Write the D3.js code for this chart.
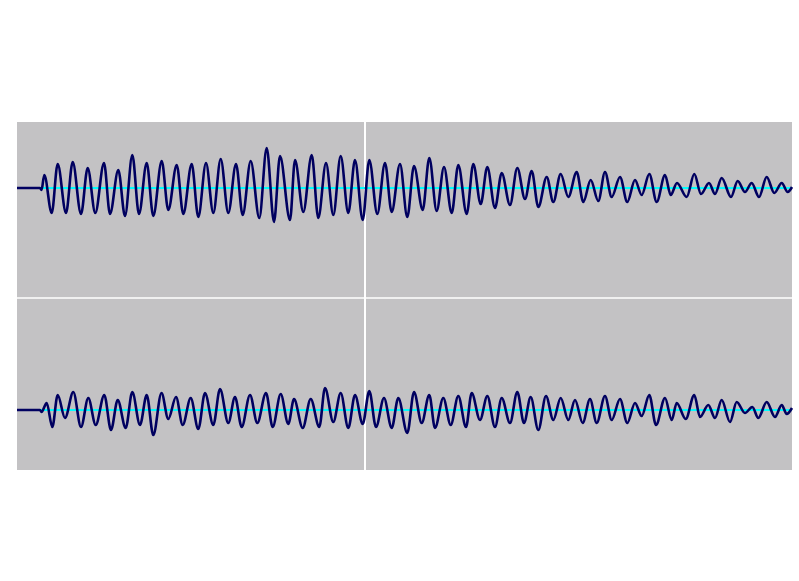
<!DOCTYPE html>
<html>
<head>
<meta charset="utf-8">
<script src="https://cdn.jsdelivr.net/npm/d3@7"></script>
<style>
  html, body { margin: 0; padding: 0; background: #ffffff; }
  svg { display: block; }
</style>
</head>
<body>
<svg id="chart" width="799" height="581"></svg>
<script>
// ---- data (time in ms, amplitude as fraction of full scale) ----
const duration = 77.5;
const gridTimes = [34.8];

const leftTimes = [0, 2.3, 2.45, 2.73, 3.47, 4.07, 4.9, 5.57, 6.4, 7.07, 7.83, 8.7, 9.3, 10.13, 10.8, 11.53, 12.2, 12.97, 13.63, 14.47, 15.13, 15.97, 16.63, 17.47, 18.13, 18.9, 19.63, 20.37, 21.13, 21.9, 22.57, 23.37, 24.23, 24.97, 25.7, 26.3, 27.3, 27.8, 28.63, 29.47, 30.13, 30.9, 31.63, 32.37, 33.13, 33.8, 34.57, 35.23, 36.03, 36.8, 37.47, 38.3, 39.03, 39.7, 40.57, 41.23, 41.97, 42.7, 43.47, 44.13, 44.97, 45.63, 46.37, 47.03, 47.8, 48.47, 49.3, 50.03, 50.8, 51.47, 52.13, 52.97, 53.63, 54.37, 55.13, 55.97, 56.63, 57.37, 58.13, 58.8, 59.47, 60.3, 61.03, 61.8, 62.47, 63.23, 63.97, 64.8, 65.37, 66.0, 66.97, 67.73, 68.4, 69.2, 69.8, 70.47, 71.4, 72.07, 72.8, 73.47, 74.2, 74.97, 75.73, 76.47, 77.07, 77.5];
const leftValues = [0, 0, -0.02, 0.13, -0.25, 0.24, -0.25, 0.26, -0.26, 0.20, -0.25, 0.25, -0.26, 0.18, -0.28, 0.33, -0.26, 0.25, -0.28, 0.27, -0.22, 0.23, -0.26, 0.24, -0.29, 0.25, -0.25, 0.29, -0.25, 0.24, -0.27, 0.27, -0.30, 0.40, -0.34, 0.32, -0.32, 0.28, -0.24, 0.33, -0.30, 0.25, -0.27, 0.32, -0.25, 0.28, -0.32, 0.28, -0.26, 0.25, -0.24, 0.24, -0.29, 0.22, -0.22, 0.30, -0.23, 0.21, -0.25, 0.23, -0.26, 0.24, -0.16, 0.21, -0.20, 0.15, -0.17, 0.20, -0.11, 0.17, -0.19, 0.11, -0.14, 0.14, -0.09, 0.16, -0.14, 0.08, -0.13, 0.16, -0.09, 0.11, -0.14, 0.08, -0.07, 0.14, -0.14, 0.13, -0.07, 0.05, -0.09, 0.14, -0.06, 0.05, -0.06, 0.10, -0.09, 0.07, -0.04, 0.05, -0.09, 0.11, -0.05, 0.05, -0.04, 0.01];

const rightTimes = [0, 2.3, 2.45, 2.97, 3.53, 4.07, 4.8, 5.63, 6.4, 7.13, 7.87, 8.73, 9.4, 10.07, 10.87, 11.53, 12.3, 12.97, 13.63, 14.45, 15.13, 15.9, 16.57, 17.37, 18.13, 18.8, 19.63, 20.3, 21.13, 21.8, 22.47, 23.3, 24.03, 24.9, 25.57, 26.37, 27.13, 27.7, 28.57, 29.37, 30.23, 30.8, 31.63, 32.37, 33.13, 33.8, 34.57, 35.23, 35.9, 36.7, 37.47, 38.13, 39.03, 39.7, 40.47, 41.23, 41.8, 42.63, 43.37, 44.13, 44.9, 45.47, 46.3, 47.03, 47.8, 48.47, 49.3, 50.03, 50.7, 51.37, 52.13, 52.9, 53.63, 54.37, 55.13, 55.8, 56.57, 57.3, 57.97, 58.8, 59.47, 60.3, 61.03, 61.8, 62.47, 63.23, 63.9, 64.8, 65.47, 65.97, 66.87, 67.73, 68.3, 69.13, 69.8, 70.47, 71.3, 71.97, 72.8, 73.53, 74.13, 74.97, 75.8, 76.47, 76.97, 77.5];
const rightValues = [0, 0, -0.02, 0.07, -0.17, 0.15, -0.08, 0.18, -0.17, 0.12, -0.15, 0.15, -0.20, 0.10, -0.18, 0.18, -0.15, 0.15, -0.25, 0.17, -0.09, 0.13, -0.15, 0.12, -0.19, 0.17, -0.15, 0.21, -0.13, 0.13, -0.17, 0.15, -0.13, 0.17, -0.17, 0.16, -0.14, 0.11, -0.18, 0.11, -0.17, 0.22, -0.12, 0.17, -0.18, 0.15, -0.14, 0.19, -0.17, 0.12, -0.18, 0.12, -0.23, 0.18, -0.13, 0.15, -0.18, 0.12, -0.15, 0.14, -0.17, 0.17, -0.10, 0.14, -0.17, 0.12, -0.13, 0.18, -0.13, 0.13, -0.20, 0.14, -0.10, 0.12, -0.10, 0.10, -0.13, 0.11, -0.13, 0.14, -0.10, 0.11, -0.13, 0.07, -0.06, 0.15, -0.15, 0.12, -0.10, 0.07, -0.09, 0.15, -0.07, 0.05, -0.08, 0.10, -0.12, 0.08, -0.03, 0.03, -0.08, 0.08, -0.07, 0.05, -0.04, 0.02];

// ---- layout ----
const svg = d3.select("#chart");
const panel = { left: 17, right: 792, top: 122, bottom: 470, split: 298 };
const zeroLeft = 188, zeroRight = 410, fullScale = 100;

const x = d3.scaleLinear().domain([0, duration]).range([panel.left, panel.right]);
const yLeft = d3.scaleLinear().domain([-1, 1]).range([zeroLeft + fullScale, zeroLeft - fullScale]);
const yRight = d3.scaleLinear().domain([-1, 1]).range([zeroRight + fullScale, zeroRight - fullScale]);

svg.append("rect")
  .attr("x", panel.left).attr("y", panel.top)
  .attr("width", panel.right - panel.left).attr("height", panel.bottom - panel.top)
  .attr("fill", "#c3c2c4");

// grid lines
svg.append("line")
  .attr("x1", panel.left).attr("x2", panel.right)
  .attr("y1", panel.split).attr("y2", panel.split)
  .attr("stroke", "#ffffff").attr("stroke-width", 1.5);
svg.selectAll("line.vgrid").data(gridTimes).enter().append("line")
  .attr("class", "vgrid")
  .attr("x1", d => x(d)).attr("x2", d => x(d))
  .attr("y1", panel.top).attr("y2", panel.bottom)
  .attr("stroke", "#ffffff").attr("stroke-width", 2);

const channels = [
  { times: leftTimes, values: leftValues, y: yLeft },
  { times: rightTimes, values: rightValues, y: yRight }
];

channels.forEach(ch => {
  // zero baseline
  svg.append("line")
    .attr("x1", x(0)).attr("x2", x(duration))
    .attr("y1", ch.y(0)).attr("y2", ch.y(0))
    .attr("stroke", "#00ffff").attr("stroke-width", 2);
  const pts = ch.times.map((t, i) => [t, ch.values[i]]);
  const line = d3.line()
    .x(d => x(d[0]))
    .y(d => ch.y(d[1]))
    .curve(d3.curveMonotoneX);
  svg.append("path")
    .attr("d", line(pts))
    .attr("fill", "none")
    .attr("stroke", "#000060")
    .attr("stroke-width", 2.6)
    .attr("stroke-linejoin", "round");
});
</script>
</body>
</html>
